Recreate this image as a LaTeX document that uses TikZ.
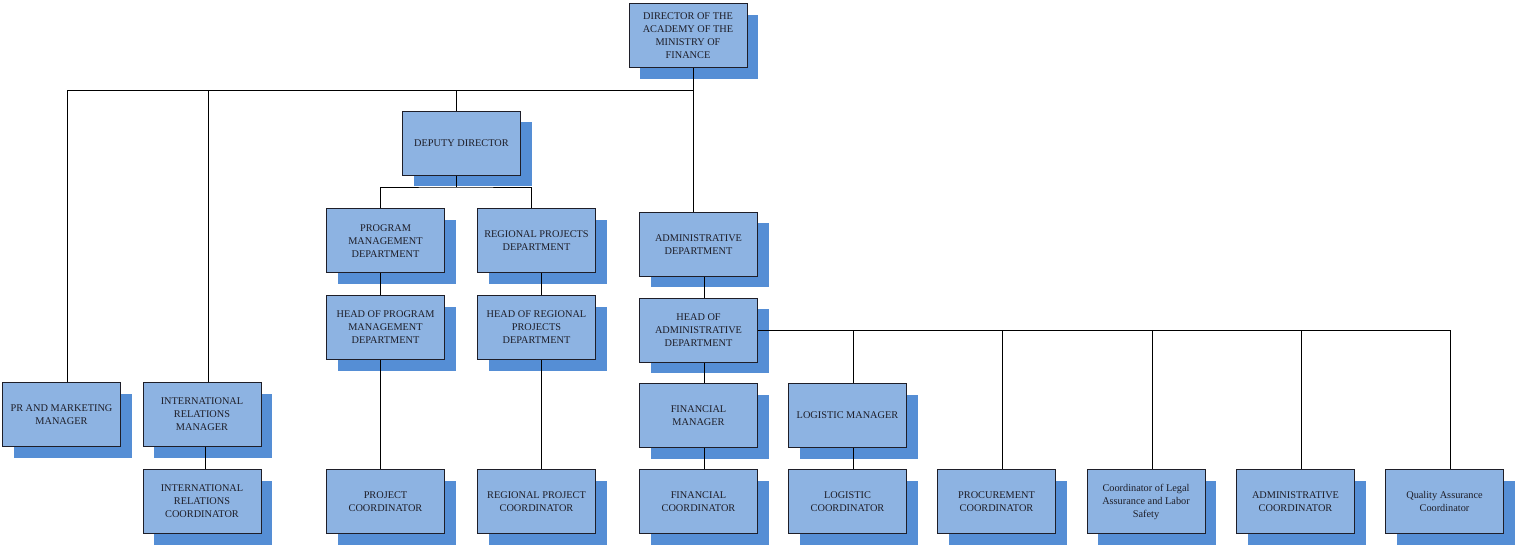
\documentclass[tikz,border=0pt]{standalone}
\usepackage{fontspec}
\setmainfont{Liberation Serif}
\usetikzlibrary{shadows}
\definecolor{boxfill}{HTML}{8DB3E2}
\definecolor{boxshadow}{HTML}{558ED5}
\definecolor{inkc}{HTML}{1E1E28}
\begin{document}
\begin{tikzpicture}[x=1pt,y=-1pt,
 box/.style={draw=inkc, line width=1pt, fill=boxfill, minimum width=118pt, minimum height=64pt,
   inner sep=0pt, align=center, font=\fontsize{10.3}{13}\selectfont, text=inkc,
   drop shadow={shadow xshift=11pt, shadow yshift=-11pt, fill=boxshadow, opacity=1}},
 conn/.style={draw=black, line width=0.8pt}]
\useasboundingbox (0,0) rectangle (1520,553);
% nodes
\node[box] (dir) at (688,36) {DIRECTOR OF THE\\ACADEMY OF THE\\MINISTRY OF\\FINANCE};
\node[box] (dep) at (461.5,143.5) {DEPUTY DIRECTOR};
\node[box] (pmd) at (385.5,241) {PROGRAM\\MANAGEMENT\\DEPARTMENT};
\node[box] (rpd) at (536.5,241) {REGIONAL PROJECTS\\DEPARTMENT};
\node[box] (hpm) at (385.5,327.5) {HEAD OF PROGRAM\\MANAGEMENT\\DEPARTMENT};
\node[box] (hrp) at (536.5,327.5) {HEAD OF REGIONAL\\PROJECTS\\DEPARTMENT};
\node[box] (pc) at (385.5,501.5) {PROJECT\\COORDINATOR};
\node[box] (rpc) at (536.5,501.5) {REGIONAL PROJECT\\COORDINATOR};
\node[box] (ad) at (698.5,244.5) {ADMINISTRATIVE\\DEPARTMENT};
\node[box] (had) at (698.5,330) {HEAD OF\\ADMINISTRATIVE\\DEPARTMENT};
\node[box] (fm) at (698.5,415.5) {FINANCIAL\\MANAGER};
\node[box] (fc) at (698.5,501.5) {FINANCIAL\\COORDINATOR};
\node[box] (lm) at (847.5,415.5) {LOGISTIC MANAGER};
\node[box] (lc) at (847.5,501.5) {LOGISTIC\\COORDINATOR};
\node[box] (pcc) at (996.5,501.5) {PROCUREMENT\\COORDINATOR};
\node[box] (clc) at (1146,501.5) {Coordinator of Legal\\Assurance and Labor\\Safety};
\node[box] (acc) at (1295.5,501.5) {ADMINISTRATIVE\\COORDINATOR};
\node[box] (qac) at (1444.5,501.5) {Quality Assurance\\Coordinator};
\node[box] (pr) at (61.5,414.5) {PR AND MARKETING\\MANAGER};
\node[box] (irm) at (202,414.5) {INTERNATIONAL\\RELATIONS\\MANAGER};
\node[box] (irc) at (202,501.5) {INTERNATIONAL\\RELATIONS\\COORDINATOR};
% top bus
\coordinate (bus) at (693,90);
\draw[conn] (dir.south -| 693,0) -- (bus);
\draw[conn] (pr.north -| 67,0) |- (bus);
\draw[conn] (irm.north -| 208,0) -- (208,90);
\draw[conn] (dep.north -| 456,0) -- (456,90);
\draw[conn] (bus) -- (ad.north -| 693,0);
% deputy branch
\coordinate (dbus) at (456,187);
\draw[conn] (dep.south -| 456,0) -- (dbus);
\draw[conn] (pmd.north -| 380,0) |- (dbus) -| (rpd.north -| 531,0);
\draw[conn] (pmd.south -| 380,0) -- (hpm.north -| 380,0);
\draw[conn] (hpm.south -| 380,0) -- (pc.north -| 380,0);
\draw[conn] (rpd.south -| 541,0) -- (hrp.north -| 541,0);
\draw[conn] (hrp.south -| 541,0) -- (rpc.north -| 541,0);
% administrative branch
\draw[conn] (ad.south -| 704,0) -- (had.north -| 704,0);
\draw[conn] (had.south -| 704,0) -- (fm.north -| 704,0);
\draw[conn] (fm.south -| 704,0) -- (fc.north -| 704,0);
\draw[conn] (had.east |- 0,330) -- (1450,330) -- (qac.north -| 1450,0);
\draw[conn] (853,330) -- (lm.north -| 853,0);
\draw[conn] (1002,330) -- (pcc.north -| 1002,0);
\draw[conn] (1152,330) -- (clc.north -| 1152,0);
\draw[conn] (1301,330) -- (acc.north -| 1301,0);
\draw[conn] (lm.south -| 853,0) -- (lc.north -| 853,0);
% international relations
\draw[conn] (irm.south -| 205,0) -- (irc.north -| 205,0);
\end{tikzpicture}
\end{document}
